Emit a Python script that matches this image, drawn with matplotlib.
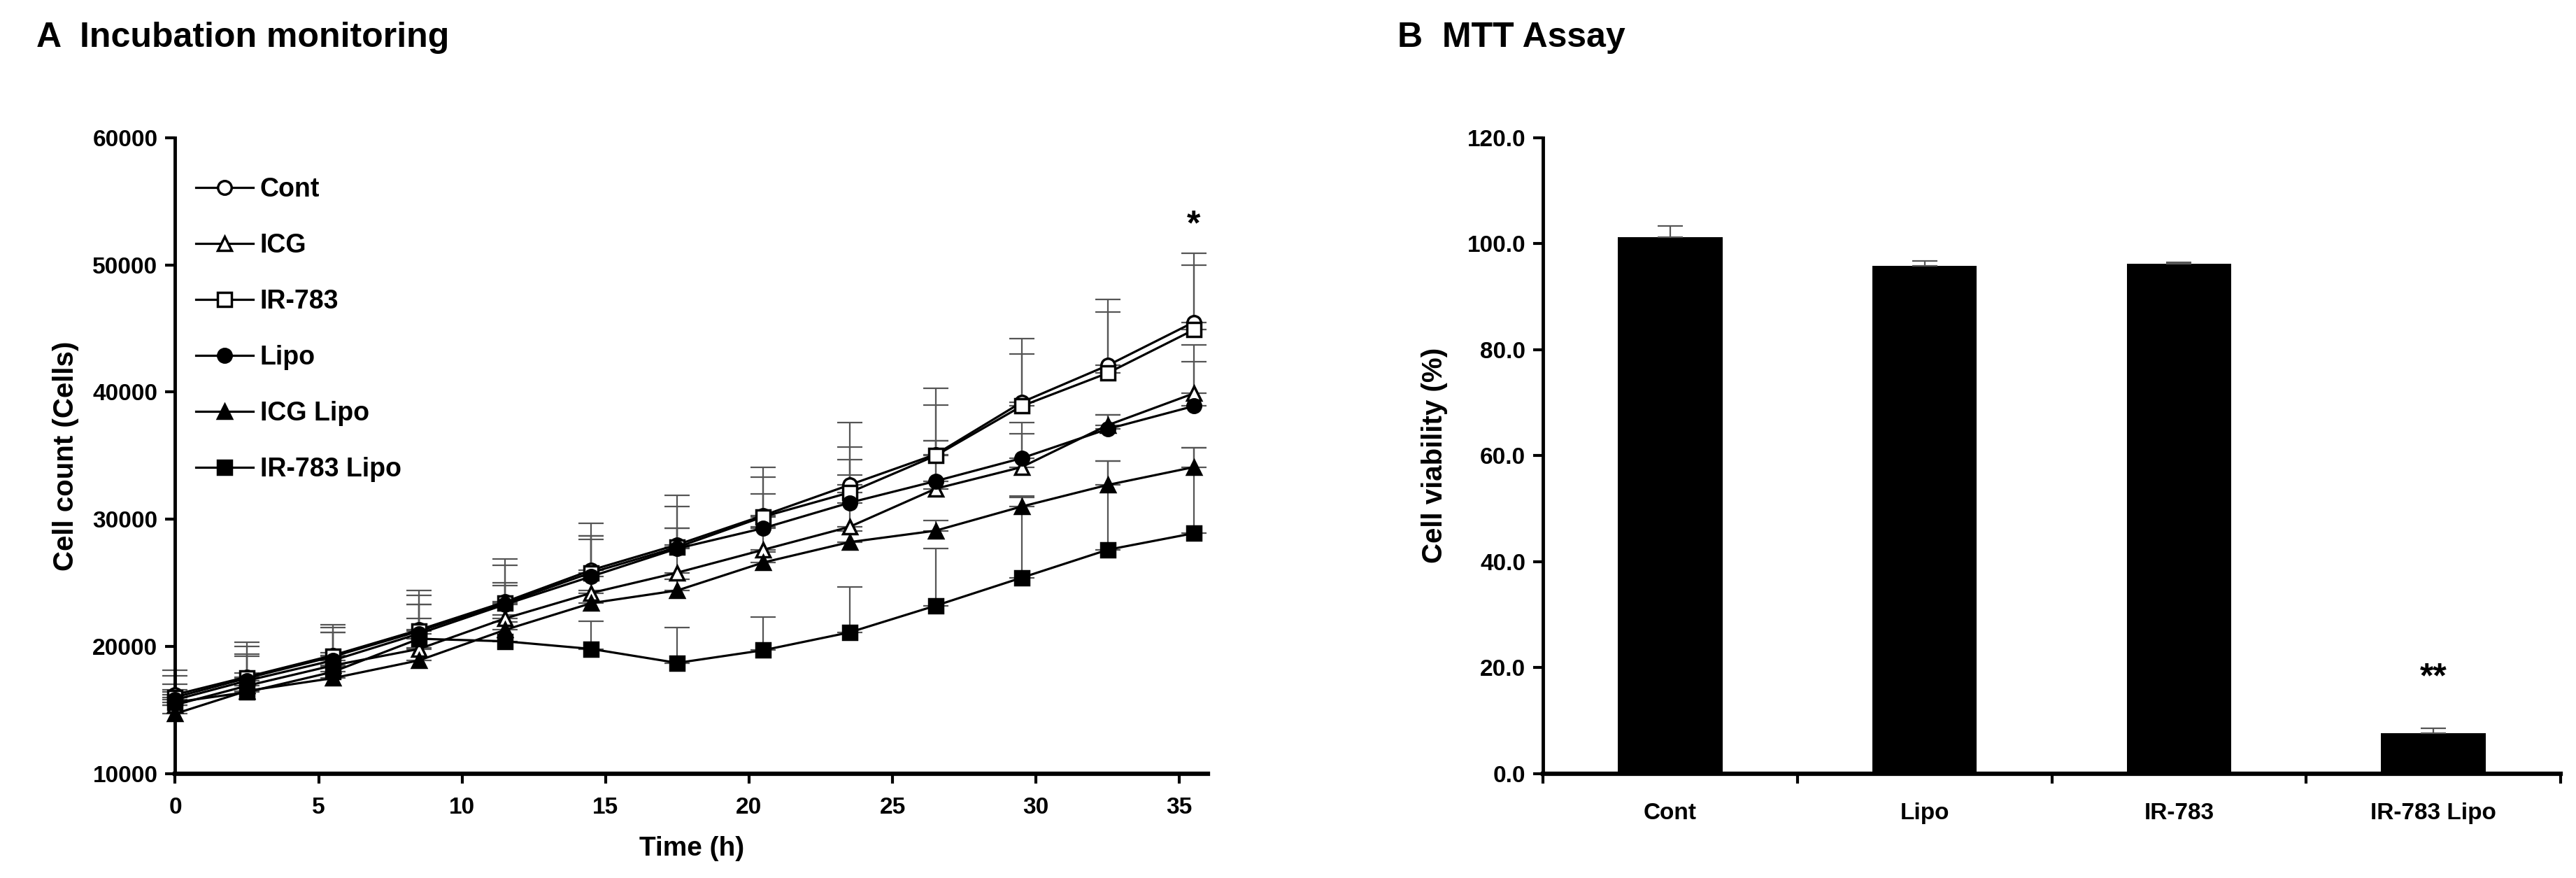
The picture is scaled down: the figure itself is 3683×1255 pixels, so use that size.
import matplotlib.pyplot as plt
import numpy as np
from matplotlib.ticker import FormatStrFormatter

plt.rcParams['font.family'] = ['Liberation Sans', 'DejaVu Sans']
plt.rcParams['font.weight'] = 'bold'
plt.rcParams['axes.labelweight'] = 'bold'

#--------------------------------------------------
#datos A: incubation monitoring
time_h = [0, 2.5, 5.5, 8.5, 11.5, 14.5, 17.5, 20.5, 23.5, 26.5, 29.5, 32.5, 35.5]

cont = [16200, 17600, 19300, 21300, 23500, 26000, 28000, 30300, 32700, 35100, 39200, 42100, 45500]
icg = [15400, 16900, 18500, 19800, 22200, 24200, 25800, 27600, 29400, 32400, 34100, 37400, 39900]
ir783 = [16000, 17500, 19200, 21200, 23400, 25800, 27800, 30200, 32100, 35000, 38900, 41500, 44900]
lipo = [15800, 17300, 18900, 21000, 23300, 25500, 27700, 29300, 31300, 33000, 34800, 37100, 38900]
icg_lipo = [14700, 16500, 17500, 18900, 21300, 23400, 24400, 26600, 28200, 29100, 31000, 32700, 34100]
ir783_lipo = [15600, 16400, 18000, 20600, 20400, 19800, 18700, 19700, 21100, 23200, 25400, 27600, 28900]

err_cont = [1500, 2700, 2400, 3100, 3400, 3700, 3900, 3800, 4900, 5200, 5000, 5200, 5400]
err_icg = [1000, 2500, 2600, 3500, 2600, 4500, 3500, 1800, 4100, 3800, 2600, 800, 3800]
err_ir783 = [1000, 2500, 2300, 2800, 3000, 2900, 3200, 3100, 3600, 4000, 4100, 4800, 5100]
err_lipo = [800, 1900, 2200, 2300, 1700, 2900, 1600, 2700, 3400, 3200, 2800, 1100, 3500]
err_icg_lipo = [700, 800, 900, 1000, 1200, 1000, 900, 800, 900, 800, 800, 1900, 1500]
err_ir783_lipo = [2500, 1500, 1500, 1600, 1500, 2200, 2800, 2600, 3600, 4500, 6300, 7000, 6700]

#datos B: MTT assay
grupos = ['Cont', 'Lipo', 'IR-783', 'IR-783 Lipo']
viabilidad = [101.2, 95.8, 96.2, 7.6]
err_viabilidad = [2.2, 1.0, 0.3, 1.0]

#--------------------------------------------------
fig = plt.figure(figsize=(36.83, 12.55), dpi=100)
ax1 = fig.add_axes([0.068, 0.119, 0.401, 0.724])
ax2 = fig.add_axes([0.599, 0.119, 0.395, 0.724])

series = [
    ('Cont', cont, err_cont, 'o', 'white'),
    ('ICG', icg, err_icg, '^', 'white'),
    ('IR-783', ir783, err_ir783, 's', 'white'),
    ('Lipo', lipo, err_lipo, 'o', 'black'),
    ('ICG Lipo', icg_lipo, err_icg_lipo, '^', 'black'),
    ('IR-783 Lipo', ir783_lipo, err_ir783_lipo, 's', 'black'),
]

for nombre, vals, err, m, fc in series:
    ax1.errorbar(time_h, vals, yerr=[np.zeros(len(err)), err], fmt='none',
                 ecolor='#555555', elinewidth=1.6, capsize=13, capthick=1.6,
                 zorder=1, clip_on=False)
for nombre, vals, err, m, fc in series:
    ax1.plot(time_h, vals, color='black', lw=2.3, marker=m, ms=14, mfc=fc,
             mec='black', mew=2.5, label=nombre, zorder=3, clip_on=False)

ax1.set_xlim(0, 36)
ax1.set_ylim(10000, 60000)
ax1.set_xticks(range(0, 36, 5))
ax1.set_yticks(range(10000, 60001, 10000))
for s in ['top', 'right']:
    ax1.spines[s].set_visible(False)
ax1.spines['left'].set_linewidth(3.5)
ax1.spines['bottom'].set_linewidth(4.5)
ax1.tick_params(direction='out', length=10, width=3, labelsize=24)
ax1.tick_params(axis='x', pad=14)
ax1.tick_params(axis='y', pad=8)
ax1.set_xlabel('Time (h)', fontsize=28, labelpad=18)
ax1.set_ylabel('Cell count (Cells)', fontsize=29, labelpad=14)
ax1.legend(loc='upper left', bbox_to_anchor=(0.02, 0.938), frameon=False,
           fontsize=27, handlelength=2.2, handletextpad=0.25, labelspacing=1.17,
           borderpad=0, borderaxespad=0, numpoints=1)
ax1.text(35.5, 53100, '*', ha='center', va='center', fontsize=36)

#--------------------------------------------------
x = np.arange(len(grupos))
ax2.bar(x, viabilidad, width=0.41, color='black', zorder=2)
ax2.errorbar(x, viabilidad, yerr=[np.zeros(len(x)), err_viabilidad], fmt='none',
             ecolor='#555555', elinewidth=1.6, capsize=13, capthick=1.6, zorder=3)
ax2.set_xlim(-0.5, 3.5)
ax2.set_ylim(0, 120)
ax2.set_yticks(range(0, 121, 20))
ax2.yaxis.set_major_formatter(FormatStrFormatter('%.1f'))
ax2.set_xticks([-0.5, 0.5, 1.5, 2.5, 3.5])
ax2.set_xticklabels([])
ax2.set_xticks(x, minor=True)
ax2.set_xticklabels(grupos, minor=True)
for s in ['top', 'right']:
    ax2.spines[s].set_visible(False)
ax2.spines['left'].set_linewidth(3.5)
ax2.spines['bottom'].set_linewidth(4.5)
ax2.tick_params(axis='both', which='major', direction='out', length=10, width=3, labelsize=24, pad=8)
ax2.tick_params(axis='x', which='minor', length=0, labelsize=24, pad=30)
ax2.set_ylabel('Cell viability (%)', fontsize=29, labelpad=20)
ax2.text(3, 18, '**', ha='center', va='center', fontsize=36)

#--------------------------------------------------
fig.text(52/3683, 1-54/1255, 'A  Incubation monitoring', fontsize=36, va='center', ha='left')
fig.text(1998/3683, 1-54/1255, 'B  MTT Assay', fontsize=36, va='center', ha='left')

fig.savefig('out.png', dpi=100)
